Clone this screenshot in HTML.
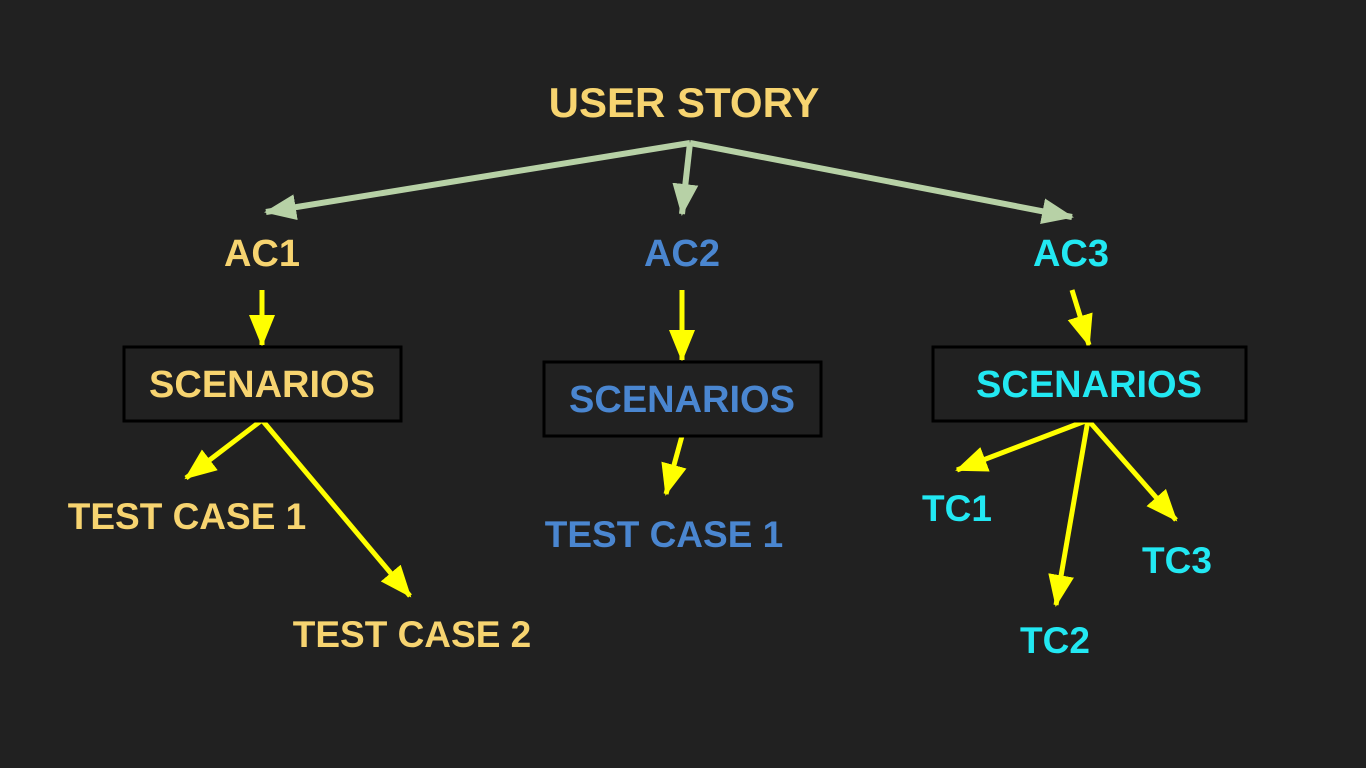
<!DOCTYPE html>
<html><head><style>
html,body{margin:0;padding:0;background:#212121;}
svg{display:block}
text{font-family:"Liberation Sans",sans-serif;font-weight:bold;text-anchor:middle}
</style></head><body>
<svg width="1366" height="768" viewBox="0 0 1366 768">
<defs>
<marker id="g" markerUnits="userSpaceOnUse" markerWidth="34" markerHeight="34" refX="30" refY="13" orient="auto"><path d="M0,0 L32,13 L0,26 Z" fill="#b7d1a6"/></marker>
<marker id="y" markerUnits="userSpaceOnUse" markerWidth="34" markerHeight="34" refX="30" refY="13" orient="auto"><path d="M0,0 L32,13 L0,26 Z" fill="#ffff00"/></marker>
</defs>
<rect width="1366" height="768" fill="#212121"/>
<g stroke="#b7d1a6" stroke-width="6" fill="none">
<line x1="690" y1="143" x2="266" y2="212" marker-end="url(#g)"/>
<line x1="690" y1="143" x2="682" y2="214" marker-end="url(#g)"/>
<line x1="690" y1="143" x2="1072" y2="217" marker-end="url(#g)"/>
</g>
<g stroke="#ffff00" stroke-width="5" fill="none">
<line x1="262" y1="290" x2="262" y2="345" marker-end="url(#y)"/>
<line x1="682" y1="290" x2="682" y2="360" marker-end="url(#y)"/>
<line x1="1072" y1="290" x2="1089" y2="345" marker-end="url(#y)"/>
<line x1="262" y1="420" x2="186" y2="478" marker-end="url(#y)"/>
<line x1="262" y1="420" x2="410" y2="596" marker-end="url(#y)"/>
<line x1="682" y1="436" x2="666" y2="494" marker-end="url(#y)"/>
<line x1="1088" y1="420" x2="957" y2="470" marker-end="url(#y)"/>
<line x1="1088" y1="420" x2="1056" y2="605" marker-end="url(#y)"/>
<line x1="1088" y1="420" x2="1176" y2="520" marker-end="url(#y)"/>
</g>
<g fill="#212121" stroke="#000" stroke-width="3">
<rect x="124" y="347" width="277" height="74"/>
<rect x="544" y="362" width="277" height="74"/>
<rect x="933" y="347" width="313" height="74"/>
</g>
<g font-size="42"><text x="684" y="117" fill="#f7d470">USER STORY</text></g>
<g font-size="38">
<text x="262" y="266" fill="#f7d470">AC1</text>
<text x="682" y="266" fill="#4a86d0">AC2</text>
<text x="1071" y="266" fill="#22e8f2">AC3</text>
<text x="262" y="397" fill="#f7d470">SCENARIOS</text>
<text x="682" y="412" fill="#4a86d0">SCENARIOS</text>
<text x="1089" y="397" fill="#22e8f2">SCENARIOS</text>
</g>
<g font-size="37">
<text x="187" y="529" fill="#f7d470">TEST CASE 1</text>
<text x="412" y="647" fill="#f7d470">TEST CASE 2</text>
<text x="664" y="547" fill="#4a86d0">TEST CASE 1</text>
<text x="957" y="521" fill="#22e8f2">TC1</text>
<text x="1055" y="653" fill="#22e8f2">TC2</text>
<text x="1177" y="573" fill="#22e8f2">TC3</text>
</g>
</svg>
</body></html>
